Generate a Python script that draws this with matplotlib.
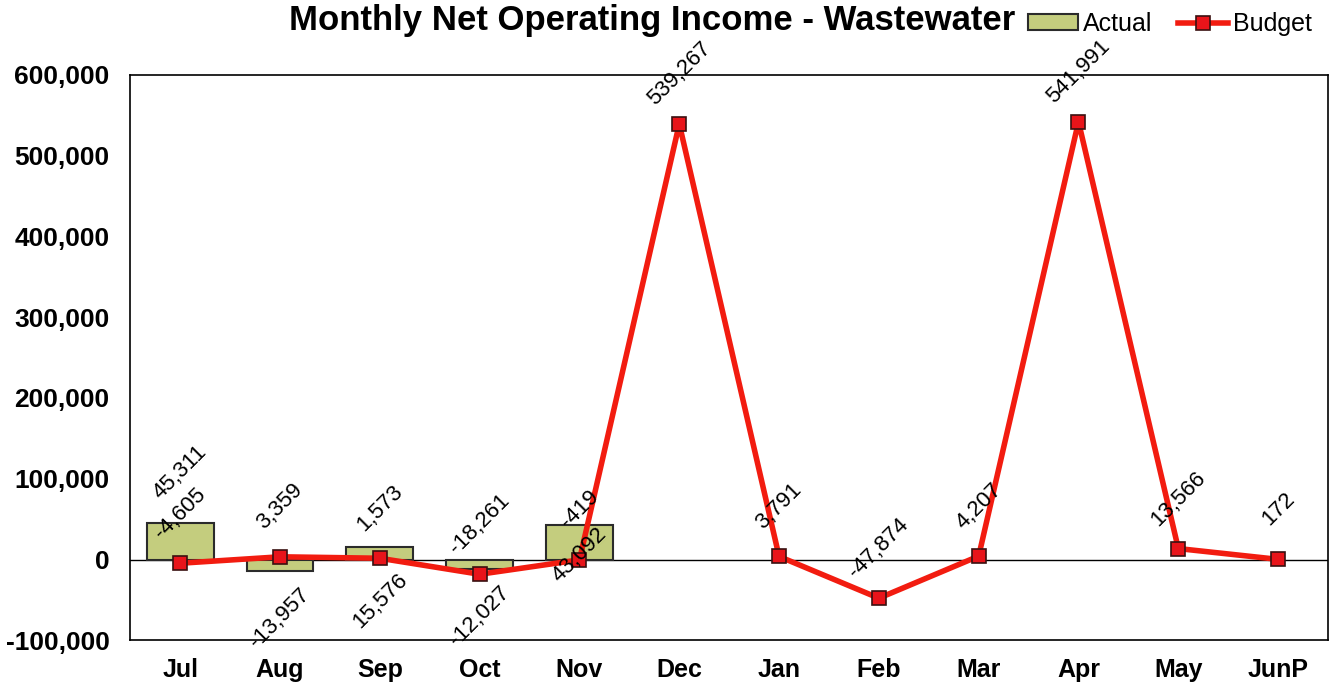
import matplotlib
matplotlib.use("Agg")
import matplotlib.pyplot as plt
from matplotlib.ticker import FuncFormatter

# Adatok
months = ["Jul", "Aug", "Sep", "Oct", "Nov", "Dec", "Jan", "Feb", "Mar", "Apr", "May", "JunP"]
actual = [45311, -13957, 15576, -12027, 43092]
budget = [-4605, 3359, 1573, -18261, -419, 539267, 3791, -47874, 4207, 541991, 13566, 172]

# Címkék eltolása (pont) - a tényleges oszlopokhoz
actual_label_dy = [36, -34, -39, -34, -22]

plt.rcParams['font.family'] = ['Liberation Sans', 'DejaVu Sans']

fig = plt.figure(figsize=(13.3, 6.87), dpi=100)
ax = fig.add_axes([0.098, 0.068, 0.9005, 0.823])

x = list(range(len(months)))

# Oszlopok
bars = ax.bar(x[:len(actual)], actual, width=0.67, color="#c4cd7e", edgecolor="#2b2b2b",
              linewidth=1.5, label="Actual", zorder=2)
ax.axhline(0, color="black", linewidth=1, zorder=1)

# Vonal
line, = ax.plot(x, budget, color="#f21c10", linewidth=4, marker="s", markersize=10,
                markerfacecolor="#e8141a", markeredgecolor="#3a1010", markeredgewidth=1.2,
                label="Budget", zorder=3)

# Adatcímkék
for i, v in enumerate(actual):
    ax.annotate(f"{v:,}", (i, v), xytext=(0, actual_label_dy[i]), textcoords="offset points",
                rotation=45, ha="center", va="center", fontsize=16, zorder=4)
for i, v in enumerate(budget):
    ax.annotate(f"{v:,}", (i, v), xytext=(0, 36), textcoords="offset points",
                rotation=45, ha="center", va="center", fontsize=16, zorder=4)

ax.set_xlim(-0.5, len(months) - 0.5)
ax.set_ylim(-100000, 600000)
ax.set_yticks(range(-100000, 600001, 100000))
ax.yaxis.set_major_formatter(FuncFormatter(lambda v, p: f"{int(v):,}"))
ax.set_xticks(x)
ax.set_xticklabels(months)
ax.tick_params(axis="y", length=0, labelsize=19, pad=15)
ax.tick_params(axis="x", length=0, labelsize=18, pad=13)
for lab in ax.get_xticklabels() + ax.get_yticklabels():
    lab.set_fontweight("bold")
for s in ax.spines.values():
    s.set_linewidth(1.2)

# Cím
fig.text(0.49, 0.97, "Monthly Net Operating Income - Wastewater", ha="center", va="center",
         fontsize=25, fontweight="bold")

# Jelmagyarázat
fig.legend([bars, line], ["Actual", "Budget"], loc="upper right", bbox_to_anchor=(1.003, 1.015),
           ncol=2, frameon=False, fontsize=18, handlelength=2.0, handleheight=0.6,
           columnspacing=1.0, handletextpad=0.2)

fig.savefig("out.png", dpi=100)
